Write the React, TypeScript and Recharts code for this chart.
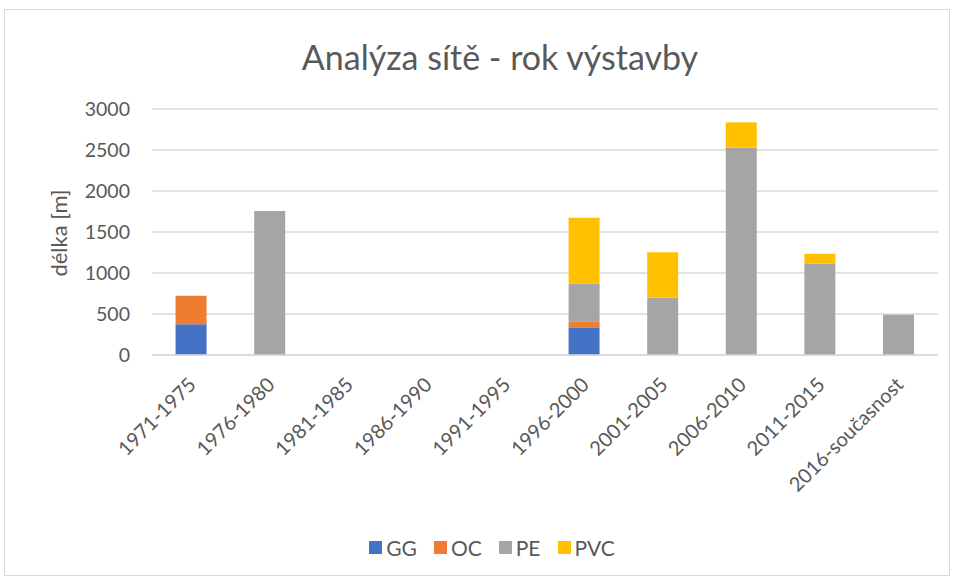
import React from 'react';
import { BarChart, Bar, XAxis, YAxis, CartesianGrid } from 'recharts';

const periods = ['1971-1975', '1976-1980', '1981-1985', '1986-1990', '1991-1995', '1996-2000', '2001-2005', '2006-2010', '2011-2015', '2016-současnost'];
const gg = [375, 0, 0, 0, 0, 330, 0, 0, 0, 0];
const oc = [347, 0, 0, 0, 0, 77, 0, 0, 0, 0];
const pe = [0, 1755, 0, 0, 0, 466, 702, 2532, 1116, 491];
const pvc = [0, 0, 0, 0, 0, 800, 552, 305, 118, 0];
const yTicks = [0, 500, 1000, 1500, 2000, 2500, 3000];

const FONT = 'Lato, "Open Sans", sans-serif';
const TEXT = '#595959';

const data = periods.map((p, i) => ({ period: p, GG: gg[i], OC: oc[i], PE: pe[i], PVC: pvc[i] }));

const series = [
    { key: 'GG', color: '#4472C4' },
    { key: 'OC', color: '#ED7D31' },
    { key: 'PE', color: '#A5A5A5' },
    { key: 'PVC', color: '#FFC000' },
];

// rotated category label, right end sits just under the bar
const AngledTick = (props: any) => {
    const { x, y, payload } = props;
    return (
        <g transform={`translate(${x + 6},${y + 23})`}>
            <text transform="rotate(-45)" textAnchor="end" fill={TEXT} fontSize={20} fontFamily={FONT}>
                {payload.value}
            </text>
        </g>
    );
};

export default function App() {
    return (
        <div style={{ position: 'absolute', left: 0, top: 0, width: 954, height: 579, background: '#fff' }}>
            <div style={{ position: 'absolute', left: 4, top: 9, width: 944, height: 565, border: '1px solid #d9d9d9' }} />
            <div style={{ position: 'absolute', top: 37, left: 0, width: 1000, textAlign: 'center', fontFamily: FONT, fontSize: 34, color: TEXT, lineHeight: '40px', whiteSpace: 'nowrap' }}>
                Analýza sítě - rok výstavby
            </div>
            <div style={{ position: 'absolute', left: 58, top: 233, transform: 'translate(-50%, -50%) rotate(-90deg)', whiteSpace: 'nowrap', fontFamily: FONT, fontSize: 22, color: TEXT }}>
                délka [m]
            </div>
            <BarChart
                width={954}
                height={579}
                data={data}
                margin={{ top: 109, right: 16, bottom: 64, left: 0 }}
                barCategoryGap="30%"
                style={{ position: 'absolute', left: 0, top: 0 }}
            >
                <CartesianGrid vertical={false} stroke="#d9d9d9" strokeWidth={1.5} />
                <XAxis
                    dataKey="period"
                    interval={0}
                    height={160}
                    axisLine={{ stroke: '#d9d9d9', strokeWidth: 1.5 }}
                    tickLine={false}
                    tick={<AngledTick />}
                />
                <YAxis
                    width={152}
                    domain={[0, 3000]}
                    ticks={yTicks}
                    axisLine={false}
                    tickLine={false}
                    tickSize={0}
                    tickMargin={22}
                    tick={{ fill: TEXT, fontSize: 19.5, fontFamily: FONT }}
                />
                {series.map(s => (
                    <Bar key={s.key} dataKey={s.key} stackId="a" fill={s.color} isAnimationActive={false} />
                ))}
            </BarChart>
            <div style={{ position: 'absolute', top: 535, left: 15, width: 954, display: 'flex', justifyContent: 'center', gap: 17, fontFamily: FONT, fontSize: 21, color: TEXT }}>
                {series.map(s => (
                    <div key={s.key} style={{ display: 'flex', alignItems: 'center', gap: 4 }}>
                        <span style={{ width: 13, height: 13, background: s.color, display: 'inline-block' }} />
                        <span>{s.key}</span>
                    </div>
                ))}
            </div>
        </div>
    );
}
